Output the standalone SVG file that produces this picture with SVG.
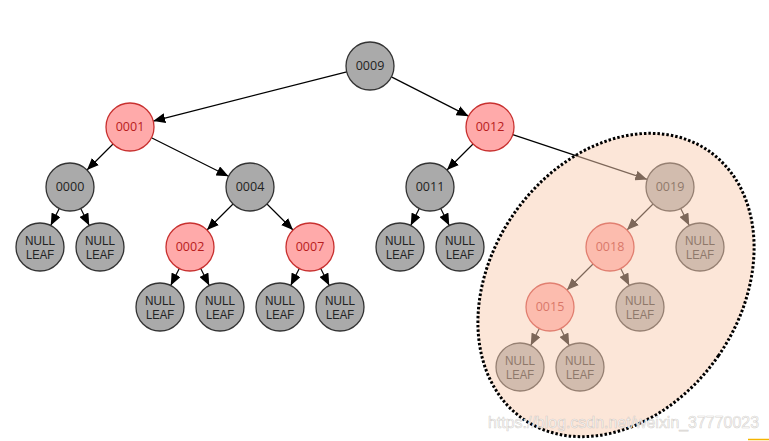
<svg xmlns="http://www.w3.org/2000/svg" width="769" height="441" viewBox="0 0 769 441">
<defs>
<marker id="arr" markerUnits="userSpaceOnUse" markerWidth="12" markerHeight="10" refX="12" refY="5" orient="auto">
<path d="M0,0 L12,5 L0,10 z" fill="#000"/>
</marker>
<style>
.edge{stroke:#000;stroke-width:1.2;fill:none;marker-end:url(#arr)}
.blk circle{fill:#aaaaaa;stroke:#333;stroke-width:1.3}
.red circle{fill:#ffaaaa;stroke:#c8302f;stroke-width:1.3}
.blk text{fill:#222}
.red text{fill:#b81c1c}
text{font-family:"Open Sans","Liberation Sans",sans-serif;font-size:12.5px;text-anchor:middle}
.nl text{font-family:"Liberation Sans",Arial,sans-serif;font-size:12px}
</style>
</defs>
<rect width="769" height="441" fill="#fff"/>
<g id="connectors">
<line class="edge" x1="346.74" y1="71.91" x2="153.26" y2="121.09"/>
<line class="edge" x1="391.39" y1="76.87" x2="468.61" y2="116.13"/>
<line class="edge" x1="113.03" y1="143.97" x2="86.97" y2="170.03"/>
<line class="edge" x1="151.47" y1="137.73" x2="228.53" y2="176.27"/>
<line class="edge" x1="59.27" y1="208.47" x2="50.73" y2="225.53"/>
<line class="edge" x1="80.73" y1="208.47" x2="89.27" y2="225.53"/>
<line class="edge" x1="233.03" y1="203.97" x2="206.97" y2="230.03"/>
<line class="edge" x1="266.97" y1="203.97" x2="293.03" y2="230.03"/>
<line class="edge" x1="179.27" y1="268.47" x2="170.73" y2="285.53"/>
<line class="edge" x1="200.73" y1="268.47" x2="209.27" y2="285.53"/>
<line class="edge" x1="299.27" y1="268.47" x2="290.73" y2="285.53"/>
<line class="edge" x1="320.73" y1="268.47" x2="329.27" y2="285.53"/>
<line class="edge" x1="473.03" y1="143.97" x2="446.97" y2="170.03"/>
<line class="edge" x1="512.77" y1="134.59" x2="647.23" y2="179.41"/>
<line class="edge" x1="419.27" y1="208.47" x2="410.73" y2="225.53"/>
<line class="edge" x1="440.73" y1="208.47" x2="449.27" y2="225.53"/>
<line class="edge" x1="653.03" y1="203.97" x2="626.97" y2="230.03"/>
<line class="edge" x1="680.73" y1="208.47" x2="689.27" y2="225.53"/>
<line class="edge" x1="593.03" y1="263.97" x2="566.97" y2="290.03"/>
<line class="edge" x1="620.73" y1="268.47" x2="629.27" y2="285.53"/>
<line class="edge" x1="539.27" y1="328.47" x2="530.73" y2="345.53"/>
<line class="edge" x1="560.73" y1="328.47" x2="569.27" y2="345.53"/>
</g>
<g id="n0009" class="blk"><circle cx="370" cy="66" r="24"/><text x="370" y="70">0009</text></g>
<g id="n0001" class="red"><circle cx="130" cy="127" r="24"/><text x="130" y="131">0001</text></g>
<g id="n0012" class="red"><circle cx="490" cy="127" r="24"/><text x="490" y="131">0012</text></g>
<g id="n0000" class="blk"><circle cx="70" cy="187" r="24"/><text x="70" y="191">0000</text></g>
<g id="n0004" class="blk"><circle cx="250" cy="187" r="24"/><text x="250" y="191">0004</text></g>
<g id="n0011" class="blk"><circle cx="430" cy="187" r="24"/><text x="430" y="191">0011</text></g>
<g id="n0019" class="blk"><circle cx="670" cy="187" r="24"/><text x="670" y="191">0019</text></g>
<g id="n0002" class="red"><circle cx="190" cy="247" r="24"/><text x="190" y="251">0002</text></g>
<g id="n0007" class="red"><circle cx="310" cy="247" r="24"/><text x="310" y="251">0007</text></g>
<g id="n0018" class="red"><circle cx="610" cy="247" r="24"/><text x="610" y="251">0018</text></g>
<g id="n0015" class="red"><circle cx="550" cy="307" r="24"/><text x="550" y="311">0015</text></g>
<g id="leaf1" class="blk nl"><circle cx="40" cy="247" r="24"/><text x="40" y="245"><tspan x="40" textLength="30" lengthAdjust="spacingAndGlyphs">NULL</tspan><tspan x="40" dy="13.5" textLength="28" lengthAdjust="spacingAndGlyphs">LEAF</tspan></text></g>
<g id="leaf2" class="blk nl"><circle cx="100" cy="247" r="24"/><text x="100" y="245"><tspan x="100" textLength="30" lengthAdjust="spacingAndGlyphs">NULL</tspan><tspan x="100" dy="13.5" textLength="28" lengthAdjust="spacingAndGlyphs">LEAF</tspan></text></g>
<g id="leaf3" class="blk nl"><circle cx="160" cy="307" r="24"/><text x="160" y="305"><tspan x="160" textLength="30" lengthAdjust="spacingAndGlyphs">NULL</tspan><tspan x="160" dy="13.5" textLength="28" lengthAdjust="spacingAndGlyphs">LEAF</tspan></text></g>
<g id="leaf4" class="blk nl"><circle cx="220" cy="307" r="24"/><text x="220" y="305"><tspan x="220" textLength="30" lengthAdjust="spacingAndGlyphs">NULL</tspan><tspan x="220" dy="13.5" textLength="28" lengthAdjust="spacingAndGlyphs">LEAF</tspan></text></g>
<g id="leaf5" class="blk nl"><circle cx="280" cy="307" r="24"/><text x="280" y="305"><tspan x="280" textLength="30" lengthAdjust="spacingAndGlyphs">NULL</tspan><tspan x="280" dy="13.5" textLength="28" lengthAdjust="spacingAndGlyphs">LEAF</tspan></text></g>
<g id="leaf6" class="blk nl"><circle cx="340" cy="307" r="24"/><text x="340" y="305"><tspan x="340" textLength="30" lengthAdjust="spacingAndGlyphs">NULL</tspan><tspan x="340" dy="13.5" textLength="28" lengthAdjust="spacingAndGlyphs">LEAF</tspan></text></g>
<g id="leaf7" class="blk nl"><circle cx="400" cy="247" r="24"/><text x="400" y="245"><tspan x="400" textLength="30" lengthAdjust="spacingAndGlyphs">NULL</tspan><tspan x="400" dy="13.5" textLength="28" lengthAdjust="spacingAndGlyphs">LEAF</tspan></text></g>
<g id="leaf8" class="blk nl"><circle cx="460" cy="247" r="24"/><text x="460" y="245"><tspan x="460" textLength="30" lengthAdjust="spacingAndGlyphs">NULL</tspan><tspan x="460" dy="13.5" textLength="28" lengthAdjust="spacingAndGlyphs">LEAF</tspan></text></g>
<g id="leaf9" class="blk nl"><circle cx="700" cy="247" r="24"/><text x="700" y="245"><tspan x="700" textLength="30" lengthAdjust="spacingAndGlyphs">NULL</tspan><tspan x="700" dy="13.5" textLength="28" lengthAdjust="spacingAndGlyphs">LEAF</tspan></text></g>
<g id="leaf10" class="blk nl"><circle cx="640" cy="307" r="24"/><text x="640" y="305"><tspan x="640" textLength="30" lengthAdjust="spacingAndGlyphs">NULL</tspan><tspan x="640" dy="13.5" textLength="28" lengthAdjust="spacingAndGlyphs">LEAF</tspan></text></g>
<g id="leaf11" class="blk nl"><circle cx="520" cy="367" r="24"/><text x="520" y="365"><tspan x="520" textLength="30" lengthAdjust="spacingAndGlyphs">NULL</tspan><tspan x="520" dy="13.5" textLength="28" lengthAdjust="spacingAndGlyphs">LEAF</tspan></text></g>
<g id="leaf12" class="blk nl"><circle cx="580" cy="367" r="24"/><text x="580" y="365"><tspan x="580" textLength="30" lengthAdjust="spacingAndGlyphs">NULL</tspan><tspan x="580" dy="13.5" textLength="28" lengthAdjust="spacingAndGlyphs">LEAF</tspan></text></g>
<ellipse cx="616" cy="285" rx="124.5" ry="163" transform="rotate(34.6 616 285)" fill="#f9cdb1" fill-opacity="0.5" stroke="#000" stroke-width="3" stroke-dasharray="2.5 2"/>
<text x="488" y="428" style="font-family:'Liberation Sans',Arial,sans-serif;font-size:16px;text-anchor:start" fill="#ffffff" fill-opacity="0.9" stroke="#a8a098" stroke-opacity="0.45" stroke-width="0.7" textLength="271" lengthAdjust="spacingAndGlyphs">https://blog.csdn.net/weixin_37770023</text>
<line x1="748" y1="439.5" x2="769" y2="439.5" stroke="#f5b400" stroke-width="1.5"/>
</svg>
